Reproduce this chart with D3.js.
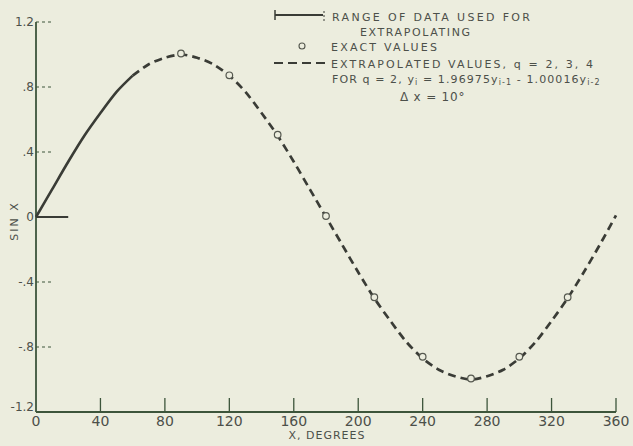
<!DOCTYPE html>
<html>
<head>
<meta charset="utf-8">
<script src="https://cdn.jsdelivr.net/npm/d3@7"></script>
<style>
  html, body { margin: 0; padding: 0; background: #ecedde; }
  svg { display: block; }
  text { font-family: "DejaVu Sans", sans-serif; fill: #4c504a; }
</style>
</head>
<body>
<script>
// sin x every 10 degrees (delta x = 10)
const fitDegrees = [0, 10, 20, 30, 40, 50, 60];
const fitValues = [0, 0.17, 0.34, 0.50, 0.64, 0.77, 0.87];

const extrapDegrees = [60, 70, 80, 90, 100, 110, 120, 130, 140, 150, 160, 170, 180,
  190, 200, 210, 220, 230, 240, 250, 260, 270, 280, 290, 300, 310, 320, 330, 340, 350, 360];
const extrapValues = [0.87, 0.94, 0.98, 1.0, 0.98, 0.94, 0.87, 0.77, 0.64, 0.50, 0.34, 0.17, 0.0,
  -0.17, -0.34, -0.50, -0.64, -0.77, -0.87, -0.94, -0.98, -1.0, -0.98, -0.94, -0.87, -0.77, -0.64, -0.50, -0.34, -0.17, 0.01];

const exactDegrees = [90, 120, 150, 180, 210, 240, 270, 300, 330];
const exactValues = [1.0, 0.866, 0.5, 0.0, -0.5, -0.866, -1.0, -0.866, -0.5];

// short solid mark along the zero line
const rangeDegrees = [0, 20];

const xTicks = [0, 40, 80, 120, 160, 200, 240, 280, 320, 360];
const yTicks = [1.2, 0.8, 0.4, 0, -0.4, -0.8, -1.2];
const yTickLabels = ["1.2", ".8", ".4", "0", "-.4", "-.8", "-1.2"];

const width = 633, height = 446;
const axisColor = "#3d553b";
const inkColor = "#3a3c36";

const svg = d3.select("body").append("svg")
    .attr("width", width)
    .attr("height", height);

const x = d3.scaleLinear().domain([0, 360]).range([36, 616]);
const y = d3.scaleLinear().domain([-1.2, 1.2]).range([412, 22]);

// axes
svg.append("line")
    .attr("x1", x(0)).attr("x2", x(0))
    .attr("y1", y(1.2)).attr("y2", y(-1.2))
    .attr("stroke", axisColor).attr("stroke-width", 1.8);

svg.append("line")
    .attr("x1", x(0)).attr("x2", x(360))
    .attr("y1", y(-1.2)).attr("y2", y(-1.2))
    .attr("stroke", axisColor).attr("stroke-width", 2.2);

svg.append("g")
  .selectAll("line")
  .data(xTicks.filter(d => d > 0))
  .join("line")
    .attr("x1", d => x(d)).attr("x2", d => x(d))
    .attr("y1", y(-1.2)).attr("y2", y(-1.2) - 14)
    .attr("stroke", axisColor).attr("stroke-width", 1.3);

svg.append("g")
  .selectAll("text")
  .data(xTicks)
  .join("text")
    .attr("x", d => x(d))
    .attr("y", 426)
    .attr("text-anchor", "middle")
    .attr("font-size", 14)
    .text(d => d);

svg.append("g")
  .selectAll("line")
  .data(yTicks.filter(d => d !== 0 && d !== -1.2))
  .join("line")
    .attr("x1", x(0)).attr("x2", x(0) + 15)
    .attr("y1", d => y(d)).attr("y2", d => y(d))
    .attr("stroke", axisColor).attr("stroke-width", 1)
    .attr("stroke-dasharray", "3,3");

svg.append("g")
  .selectAll("text")
  .data(yTicks)
  .join("text")
    .attr("x", 34)
    .attr("y", d => y(d) + (d === -1.2 ? -1 : 4))
    .attr("text-anchor", "end")
    .attr("font-size", 12)
    .text((d, i) => yTickLabels[i]);

svg.append("text")
    .attr("transform", `translate(18,${y(0) + 4}) rotate(-90)`)
    .attr("text-anchor", "middle")
    .attr("font-size", 11)
    .attr("letter-spacing", 2)
    .text("SIN X");

svg.append("text")
    .attr("x", 327)
    .attr("y", 439)
    .attr("text-anchor", "middle")
    .attr("font-size", 11)
    .attr("letter-spacing", 1)
    .text("X, DEGREES");

// curves
const line = d3.line()
    .x(d => x(d[0]))
    .y(d => y(d[1]))
    .curve(d3.curveCardinal.tension(0.2));

svg.append("path")
    .datum(rangeDegrees.map(d => [d, 0]))
    .attr("d", d3.line().x(d => x(d[0])).y(d => y(d[1])))
    .attr("stroke", inkColor).attr("stroke-width", 2).attr("fill", "none");

svg.append("path")
    .datum(fitDegrees.map((d, i) => [d, fitValues[i]]))
    .attr("d", line)
    .attr("stroke", inkColor).attr("stroke-width", 2.6).attr("fill", "none");

svg.append("path")
    .datum(extrapDegrees.map((d, i) => [d, extrapValues[i]]))
    .attr("d", line)
    .attr("stroke", inkColor).attr("stroke-width", 2.7).attr("fill", "none")
    .attr("stroke-dasharray", "8,5");

svg.append("g")
  .selectAll("circle")
  .data(exactDegrees.map((d, i) => [d, exactValues[i]]))
  .join("circle")
    .attr("cx", d => x(d[0]))
    .attr("cy", d => y(d[1]) - 1)
    .attr("r", 3.3)
    .attr("fill", "#ecedde")
    .attr("stroke", "#55584f")
    .attr("stroke-width", 1.2);

// legend
const legend = svg.append("g");

legend.append("line")
    .attr("x1", 275).attr("x2", 323).attr("y1", 15).attr("y2", 15)
    .attr("stroke", inkColor).attr("stroke-width", 2);
legend.append("line")
    .attr("x1", 275).attr("x2", 275).attr("y1", 10).attr("y2", 20)
    .attr("stroke", inkColor).attr("stroke-width", 1.5);
legend.append("line")
    .attr("x1", 324).attr("x2", 324).attr("y1", 11).attr("y2", 21)
    .attr("stroke", inkColor).attr("stroke-width", 1).attr("stroke-dasharray", "2,2");

legend.append("circle")
    .attr("cx", 302).attr("cy", 46).attr("r", 3)
    .attr("fill", "none").attr("stroke", "#55584f").attr("stroke-width", 1.1);

legend.append("line")
    .attr("x1", 274).attr("x2", 330).attr("y1", 63).attr("y2", 63)
    .attr("stroke", inkColor).attr("stroke-width", 2.2)
    .attr("stroke-dasharray", "9,5");

const legendText = (tx, ty, len, str) => legend.append("text")
    .attr("x", tx).attr("y", ty)
    .attr("font-size", 11)
    .attr("textLength", len).attr("lengthAdjust", "spacing")
    .text(str);

legendText(332, 21, 198, "RANGE OF DATA USED FOR");
legendText(360, 36, 110, "EXTRAPOLATING");
legendText(331, 51, 106, "EXACT VALUES");
legendText(331, 68, 262, "EXTRAPOLATED VALUES, q = 2, 3, 4");

const formula = legend.append("text")
    .attr("x", 332).attr("y", 83)
    .attr("font-size", 11)
    .attr("letter-spacing", 1.1);
formula.append("tspan").text("FOR q = 2, y");
formula.append("tspan").attr("font-size", 8).attr("dy", 2).text("i");
formula.append("tspan").attr("dy", -2).text(" = 1.96975y");
formula.append("tspan").attr("font-size", 8).attr("dy", 2).text("i-1");
formula.append("tspan").attr("dy", -2).text(" - 1.00016y");
formula.append("tspan").attr("font-size", 8).attr("dy", 2).text("i-2");

legend.append("text")
    .attr("x", 400).attr("y", 101)
    .attr("font-size", 12)
    .attr("letter-spacing", 0.8)
    .text("\u0394 x = 10\u00B0");
</script>
</body>
</html>
